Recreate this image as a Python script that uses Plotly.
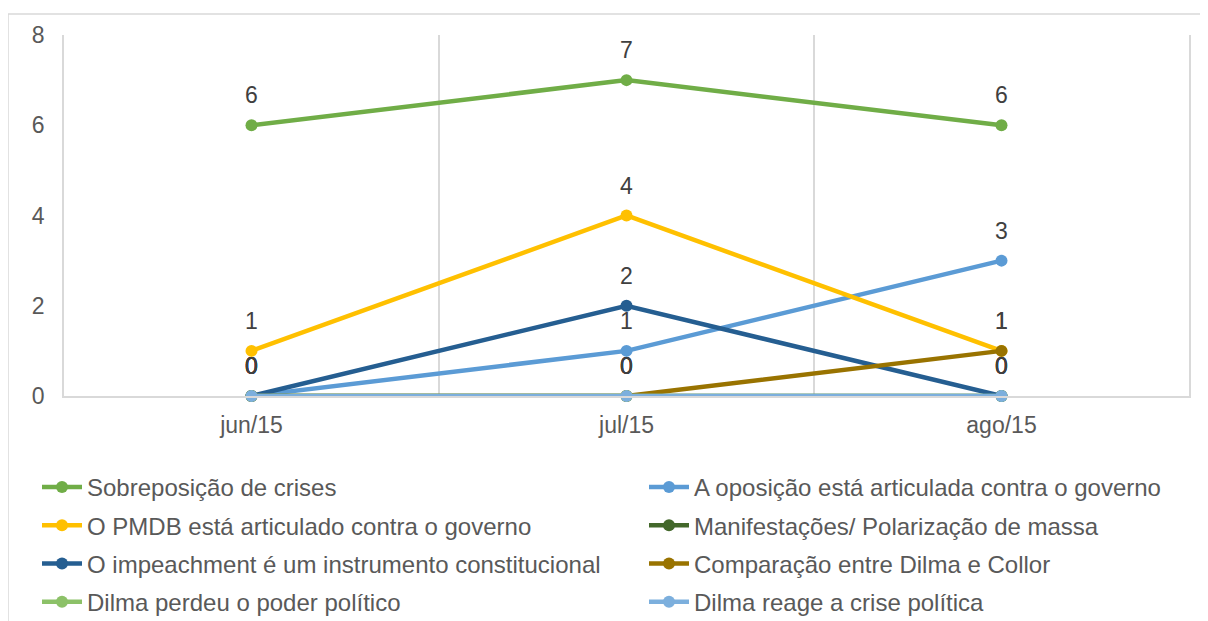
import plotly.graph_objects as go

months = ["jun/15", "jul/15", "ago/15"]

series_names = [
    "Sobreposição de crises",
    "A oposição está articulada contra o governo",
    "O PMDB está articulado contra o governo",
    "Manifestações/ Polarização de massa",
    "O impeachment é um instrumento constitucional",
    "Comparação entre Dilma e Collor",
    "Dilma perdeu o poder político",
    "Dilma reage a crise política",
]
sobreposicao = [6, 7, 6]
oposicao = [0, 1, 3]
pmdb = [1, 4, 1]
manifestacoes = [0, 0, 0]
impeachment = [0, 2, 0]
comparacao = [0, 0, 1]
perdeu = [0, 0, 0]
reage = [0, 0, 0]
values = [sobreposicao, oposicao, pmdb, manifestacoes, impeachment, comparacao, perdeu, reage]
colors = ["#70AD47", "#5B9BD5", "#FFC000", "#43682B", "#255E91", "#997300", "#8CC168", "#7CAFDD"]

FONT = "Arial, Liberation Sans, sans-serif"

# figure is placed at an 8px page offset, so work in 1200x613
W, H = 1200, 613
L, R, T, B = 56, 19, 27, 225
PW, PH = W - L - R, H - T - B

fig = go.Figure()
annotations = []
for i, (name, vals, col) in enumerate(zip(series_names, values, colors)):
    fig.add_trace(go.Scatter(
        x=months, y=vals, name=name, mode="lines+markers",
        line=dict(color=col, width=4.5),
        marker=dict(color=col, size=12),
        legend="legend" if i % 2 == 0 else "legend2",
        legendgroup=f"g{i}",
        cliponaxis=False,
    ))
    for m, v in zip(months, vals):
        annotations.append(dict(
            x=m, y=v, xref="x", yref="y", text=str(v), showarrow=False,
            yshift=30, font=dict(family=FONT, size=23, color="#404040"),
        ))

legend_common = dict(
    orientation="v", tracegroupgap=4, bgcolor="rgba(0,0,0,0)",
    font=dict(family=FONT, size=24, color="#595959"),
    yanchor="top", xanchor="left", itemwidth=40,
)

legend_top = 457
fig.update_layout(
    width=W, height=H,
    margin=dict(l=L, r=R, t=T, b=B, autoexpand=False),
    paper_bgcolor="white", plot_bgcolor="white",
    font=dict(family=FONT, color="#595959"),
    xaxis=dict(
        type="category", range=[-0.5, 2.5], tickson="boundaries",
        showgrid=True, gridcolor="#D9D9D9", gridwidth=1.5,
        showline=True, linecolor="#D9D9D9", linewidth=1.5,
        ticks="", ticklabelstandoff=8,
        tickfont=dict(family=FONT, size=23, color="#595959"),
        zeroline=False,
    ),
    yaxis=dict(
        range=[0, 8], tickvals=[0, 2, 4, 6, 8], showgrid=False, zeroline=False,
        showline=True, mirror=True, linecolor="#D9D9D9", linewidth=1.5,
        ticks="", ticklabelstandoff=13,
        tickfont=dict(family=FONT, size=23, color="#595959"),
    ),
    legend=dict(x=(29 - L) / PW, y=(PH + T - legend_top) / PH, **legend_common),
    legend2=dict(x=(636 - L) / PW, y=(PH + T - legend_top) / PH, **legend_common),
    annotations=annotations,
    shapes=[dict(
        type="rect", xref="paper", yref="paper",
        x0=(0 - L) / PW, x1=(1240 - L) / PW,
        y0=(PH + T - 660) / PH, y1=(PH + T - 6) / PH,
        line=dict(color="#D9D9D9", width=1.5), fillcolor="rgba(0,0,0,0)", layer="below",
    )],
)

fig.write_html("out.html")
